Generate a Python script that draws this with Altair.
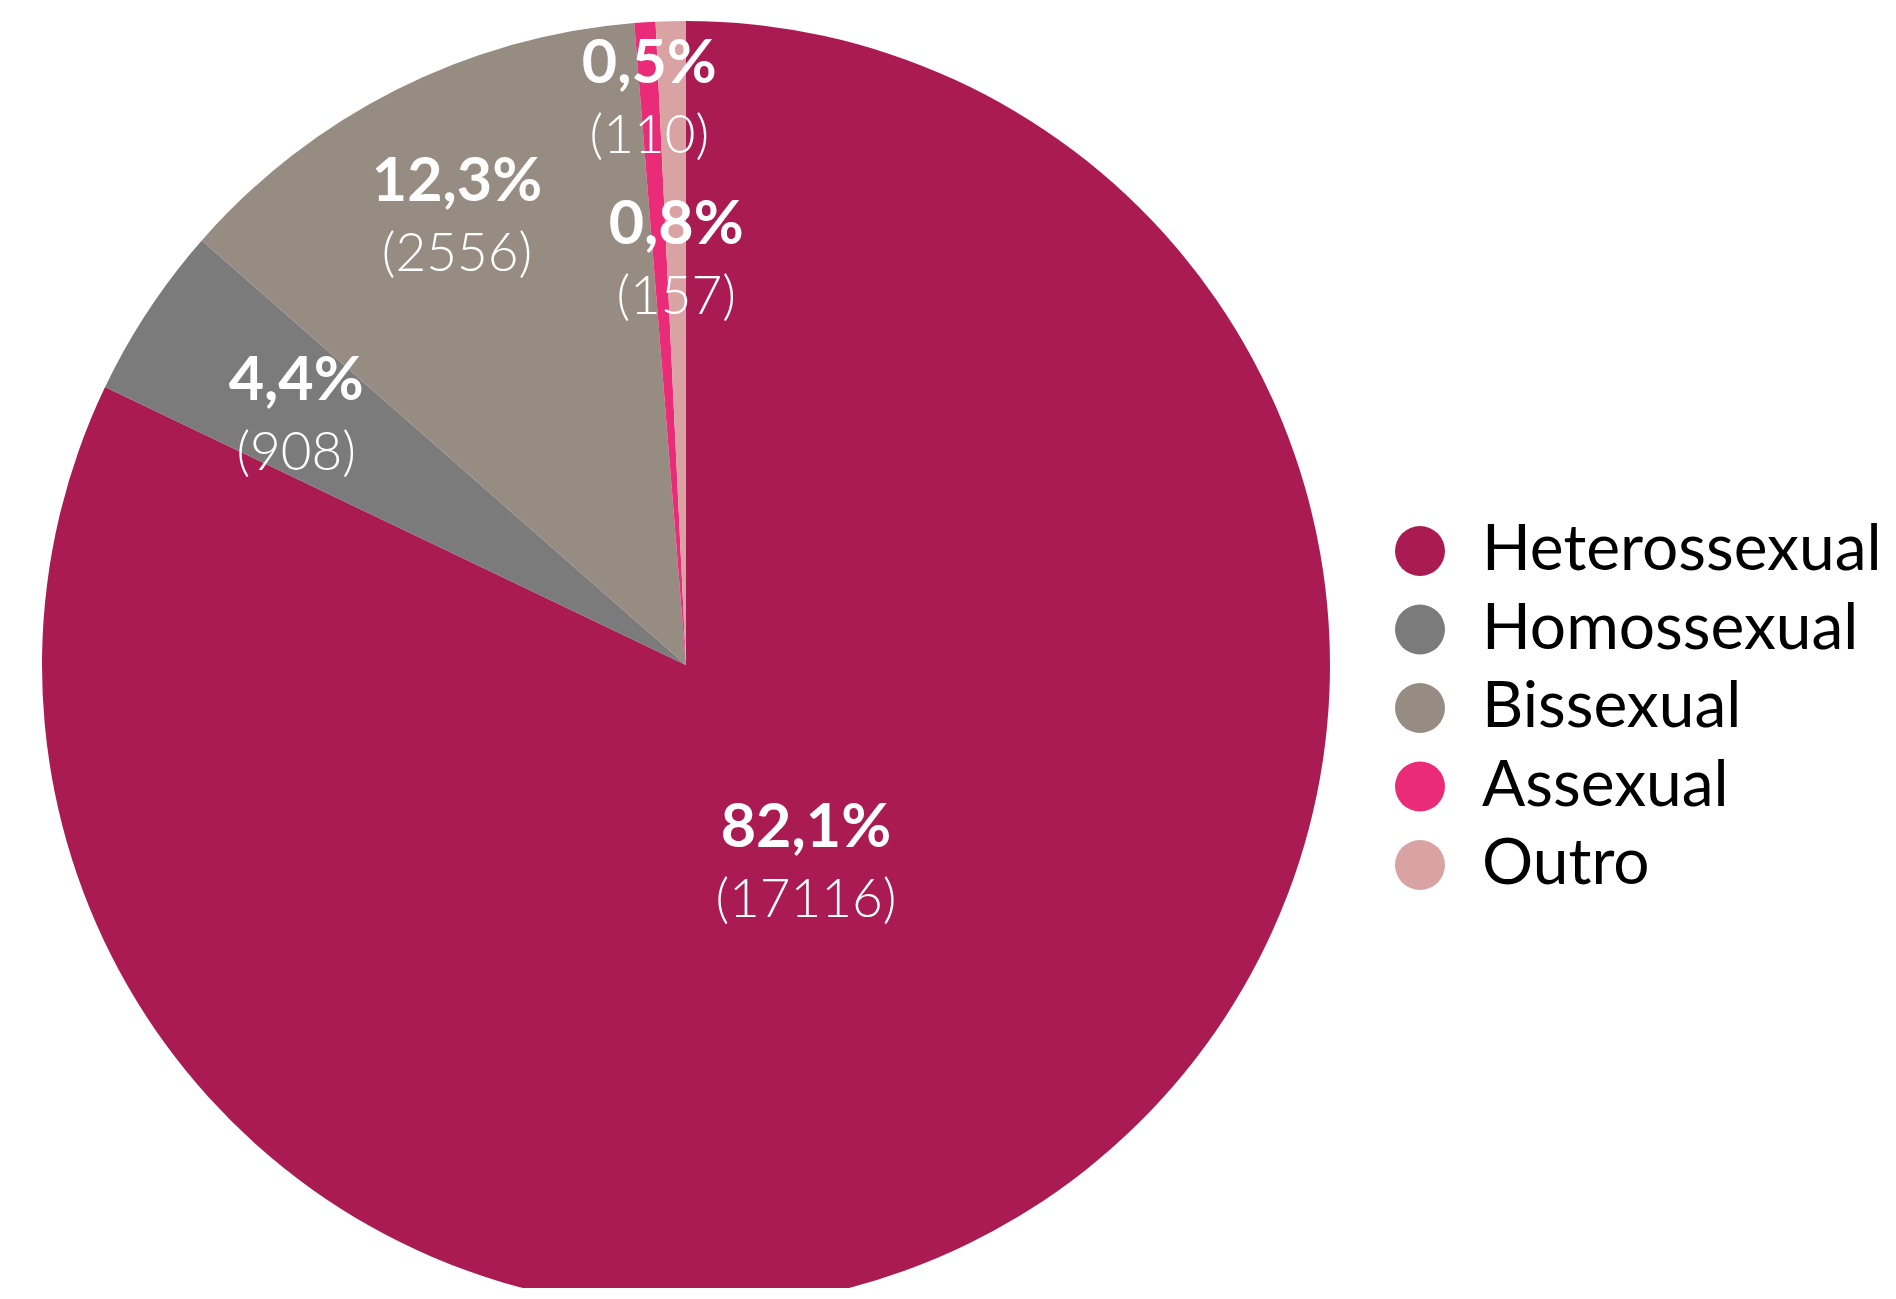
import altair as alt
import pandas as pd

categories = ["Heterossexual", "Homossexual", "Bissexual", "Assexual", "Outro"]
counts = [17116, 908, 2556, 110, 157]
pct_labels = ["82,1%", "4,4%", "12,3%", "0,5%", "0,8%"]
count_labels = ["(17116)", "(908)", "(2556)", "(110)", "(157)"]
colors = ["#AB1B53", "#7B7B7B", "#968C82", "#EA2B78", "#D9A3A3"]

df = pd.DataFrame({
    "cat": categories,
    "n": counts,
    "pct": pct_labels,
    "cnt": count_labels,
    "idx": list(range(len(categories))),
})

CX, CY, R = 678, 657, 644
label_r = {"Heterossexual": 225, "Homossexual": 467, "Bissexual": 510, "Assexual": 575, "Outro": 413}
r_expr = " : ".join(f"datum.cat === '{k}' ? {v}" for k, v in label_r.items()) + " : 300"

pie = alt.Chart(df).mark_arc(outerRadius=R, stroke=None).encode(
    theta=alt.Theta("n:Q", stack=True),
    order=alt.Order("idx:Q", sort="ascending"),
    x=alt.value(CX),
    y=alt.value(CY),
    color=alt.Color(
        "cat:N",
        scale=alt.Scale(domain=categories, range=colors),
        sort=categories,
        legend=alt.Legend(
            title=None,
            orient="none",
            legendX=1380,
            legendY=511,
            symbolType="circle",
            symbolSize=2500,
            symbolStrokeWidth=0,
            labelFont="Lato",
            labelFontSize=64,
            labelFontWeight=400,
            labelColor="#000000",
            labelOffset=30,
            rowPadding=14.5,
            padding=0,
            labelLimit=700,
        ),
    ),
)

lab = (
    alt.Chart(df)
    .transform_window(cum="sum(n)", sort=[alt.SortField("idx", order="ascending")])
    .transform_joinaggregate(total="sum(n)")
    .transform_calculate(ang="(datum.cum - datum.n / 2) / datum.total * 2 * PI", lr=r_expr)
    .encode(
        theta=alt.Theta("ang:Q", scale=None),
        radius=alt.Radius("lr:Q", scale=None),
        x=alt.value(CX),
        y=alt.value(CY),
    )
)

pct_text = lab.mark_text(
    font="Lato", fontSize=61, fontWeight="bold", color="white",
    align="center", baseline="middle", dy=-26,
).encode(text="pct:N")

cnt_text = lab.mark_text(
    font="Lato", fontSize=53, fontWeight=300, color="white",
    align="center", baseline="middle", dy=46,
).encode(text="cnt:N")

chart = alt.layer(pie, pct_text, cnt_text).properties(
    width=1878, height=1280, autosize=alt.AutoSizeParams(type="none"), padding=0,
).configure_view(stroke=None)

chart.save("out.html", embed_options={"renderer": "svg", "actions": False})
